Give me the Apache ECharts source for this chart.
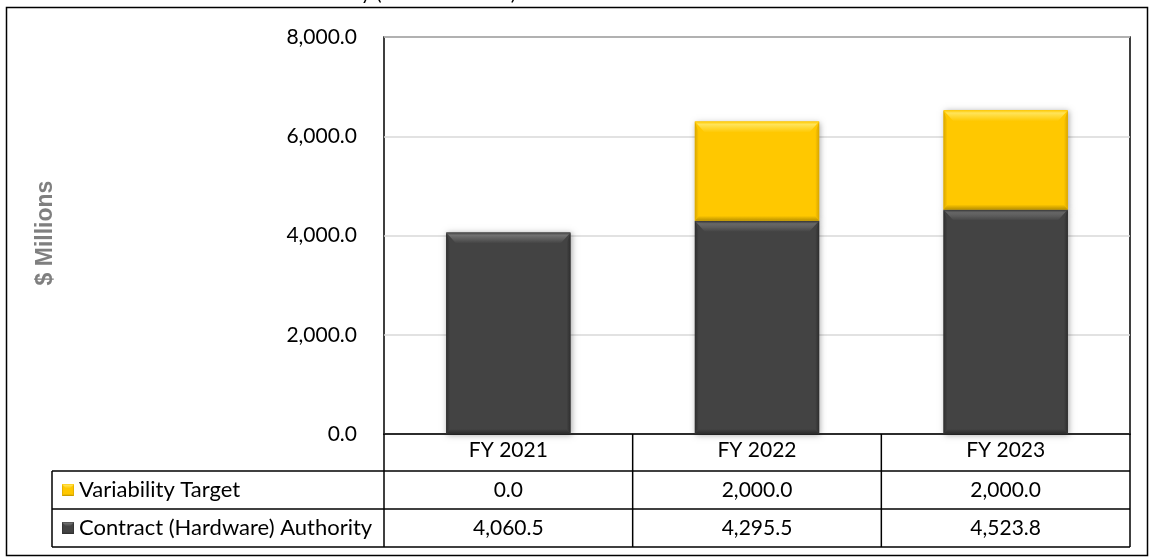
<!DOCTYPE html>
<html>
<head>
<meta charset="utf-8">
<title>Contract Authority</title>
<script src="https://cdn.jsdelivr.net/npm/echarts@6/dist/echarts.min.js"></script>
<style>
  html, body { margin: 0; padding: 0; background: #fff; }
  #chart { width: 1154px; height: 557px; }
</style>
</head>
<body>
<div id="chart"></div>
<script>
// ---- data ----
const categories = ['FY 2021', 'FY 2022', 'FY 2023'];
const contractAuthority = [4060.5, 4295.5, 4523.8];
const variabilityTarget = [0.0, 2000.0, 2000.0];
const seriesNames = ['Variability Target', 'Contract (Hardware) Authority'];
const yTicks = [0, 2000, 4000, 6000, 8000];

// ---- layout ----
const PLOT_L = 384, PLOT_R = 1130, PLOT_T = 37, PLOT_B = 434;
const ROW_Y = [471, 509, 547];
const TABLE_L = 52;
const FONT = 'Lato, "Noto Sans", sans-serif';

const fmt = v => v.toLocaleString('en-US', { minimumFractionDigits: 1, maximumFractionDigits: 1 });

// bevelled bar styles
const palettes = {
  dark: { base: '#434343', topLight: '#727272', side: '#2e2e2e', bottom: '#2a2a2a' },
  gold: { base: '#FFC800', topLight: '#FFE45A', side: '#D9A600', bottom: '#B89000' }
};

function bevelBar(x0, y0, x1, y1, pal, withShadow, scale) {
  const s = scale || 1;
  const h = y1 - y0;
  const bt = Math.min(11 * s, h / 2), bs = Math.min(4 * s, (x1 - x0) / 4), bb = Math.min(5 * s, h / 3);
  return [
    {
      type: 'rect', shape: { x: x0, y: y0, width: x1 - x0, height: h },
      style: withShadow ? { fill: pal.base, shadowBlur: 6, shadowColor: 'rgba(0,0,0,0.35)', shadowOffsetX: 1, shadowOffsetY: 1 } : { fill: pal.base }
    },
    { // left side
      type: 'polygon', shape: { points: [[x0, y0], [x0 + bs, y0 + bt], [x0 + bs, y1 - bb], [x0, y1]] },
      style: { fill: new echarts.graphic.LinearGradient(0, 0, 1, 0, [{ offset: 0, color: pal.side }, { offset: 1, color: pal.base }]) }
    },
    { // right side
      type: 'polygon', shape: { points: [[x1, y0], [x1 - bs, y0 + bt], [x1 - bs, y1 - bb], [x1, y1]] },
      style: { fill: new echarts.graphic.LinearGradient(1, 0, 0, 0, [{ offset: 0, color: pal.side }, { offset: 1, color: pal.base }]) }
    },
    { // bottom edge
      type: 'polygon', shape: { points: [[x0, y1], [x1, y1], [x1 - bs, y1 - bb], [x0 + bs, y1 - bb]] },
      style: { fill: new echarts.graphic.LinearGradient(0, 1, 0, 0, [{ offset: 0, color: pal.bottom }, { offset: 1, color: pal.base }]) }
    },
    { // top bevel highlight
      type: 'polygon', shape: { points: [[x0, y0], [x1, y0], [x1 - bs * 2.5, y0 + bt], [x0 + bs * 2.5, y0 + bt]] },
      style: { fill: new echarts.graphic.LinearGradient(0, 0, 0, 1, [{ offset: 0, color: pal.base }, { offset: 0.25, color: pal.topLight }, { offset: 1, color: pal.base }]) }
    }
  ];
}

function makeRender(pal) {
  return function (params, api) {
    const ci = api.value(0);
    const top = api.coord([ci, api.value(2)]);
    const bot = api.coord([ci, api.value(1)]);
    const w = api.size([1, 0])[0] * 0.5;
    if (bot[1] - top[1] < 0.5) return null;
    const x0 = top[0] - w / 2, x1 = top[0] + w / 2;
    return { type: 'group', children: bevelBar(x0, top[1], x1, bot[1], pal, true) };
  };
}

const contractData = categories.map((c, i) => [i, 0, contractAuthority[i]]);
const variabilityData = categories.map((c, i) => [i, contractAuthority[i], contractAuthority[i] + variabilityTarget[i]]);

const chart = echarts.init(document.getElementById('chart'), null, { renderer: 'canvas' });

chart.setOption({
  animation: false,
  backgroundColor: '#fff',
  grid: {
    left: PLOT_L, right: 1154 - PLOT_R, top: PLOT_T, bottom: 557 - PLOT_B,
    show: true, borderColor: '#000', borderWidth: 1.5, backgroundColor: 'transparent'
  },
  xAxis: {
    type: 'category', data: categories,
    axisLine: { show: true, lineStyle: { color: '#000', width: 1.5 } },
    axisTick: { show: false },
    axisLabel: { color: '#000', fontFamily: FONT, fontSize: 21, margin: 6 },
    splitLine: { show: false }
  },
  yAxis: {
    type: 'value', min: yTicks[0], max: yTicks[yTicks.length - 1], interval: yTicks[1] - yTicks[0],
    axisLine: { show: false }, axisTick: { show: false },
    axisLabel: { color: '#000', fontFamily: FONT, fontSize: 21, margin: 27, formatter: v => fmt(v) },
    splitLine: { lineStyle: { color: '#d9d9d9', width: 1.5 } }
  },
  series: [
    { name: seriesNames[1], type: 'custom', renderItem: makeRender(palettes.dark), data: contractData, encode: { x: 0, y: [1, 2] }, z: 3 },
    { name: seriesNames[0], type: 'custom', renderItem: makeRender(palettes.gold), data: variabilityData, encode: { x: 0, y: [1, 2] }, z: 3 }
  ]
});

// ---- data table beneath the plot ----
const colCenters = categories.map((c, i) => chart.convertToPixel({ xAxisIndex: 0 }, i));
const colW = (PLOT_R - PLOT_L) / categories.length;
const lineStyle = { stroke: '#000', lineWidth: 1.5 };
const g = [];

// outer frame
g.push({ type: 'rect', shape: { x: 6.5, y: 7.5, width: 1141, height: 548 }, style: { fill: null, stroke: '#000', lineWidth: 1.5 }, z: 1 });

// heading (runs above the top edge)
g.push({ type: 'text', x: 516, y: 4, style: { text: 'Contract Authority (FY 2021-2023)', font: '20px ' + FONT, fill: '#000', align: 'right', verticalAlign: 'bottom' } });

// axis title
g.push({ type: 'text', x: 46, y: 233, rotation: Math.PI / 2, style: { text: '$ Millions', font: 'bold 23px "Liberation Sans", Arial, sans-serif', fill: '#7f7f7f', align: 'center', verticalAlign: 'middle' } });

// horizontal rules
ROW_Y.forEach(y => g.push({ type: 'line', shape: { x1: TABLE_L, y1: y, x2: PLOT_R, y2: y }, style: lineStyle, z: 5 }));
// vertical rules
g.push({ type: 'line', shape: { x1: TABLE_L, y1: ROW_Y[0], x2: TABLE_L, y2: ROW_Y[2] }, style: lineStyle, z: 5 });
for (let i = 0; i <= categories.length; i++) {
  const x = PLOT_L + colW * i;
  g.push({ type: 'line', shape: { x1: x, y1: PLOT_B, x2: x, y2: ROW_Y[2] }, style: lineStyle, z: 5 });
}

// rows: legend key + values
const rows = [
  { name: seriesNames[0], values: variabilityTarget, pal: palettes.gold },
  { name: seriesNames[1], values: contractAuthority, pal: palettes.dark }
];
rows.forEach((r, ri) => {
  const cy = (ROW_Y[ri] + ROW_Y[ri + 1]) / 2;
  bevelBar(62, cy - 6, 74, cy + 6, r.pal, false, 0.4).forEach(ch => g.push(ch));
  g.push({ type: 'text', x: 79, y: cy, style: { text: r.name, font: '22px ' + FONT, fill: '#000', align: 'left', verticalAlign: 'middle' } });
  r.values.forEach((v, i) => {
    g.push({ type: 'text', x: colCenters[i], y: cy, style: { text: fmt(v), font: '21px ' + FONT, fill: '#000', align: 'center', verticalAlign: 'middle' } });
  });
});

chart.setOption({ graphic: { elements: g } });
</script>
</body>
</html>
